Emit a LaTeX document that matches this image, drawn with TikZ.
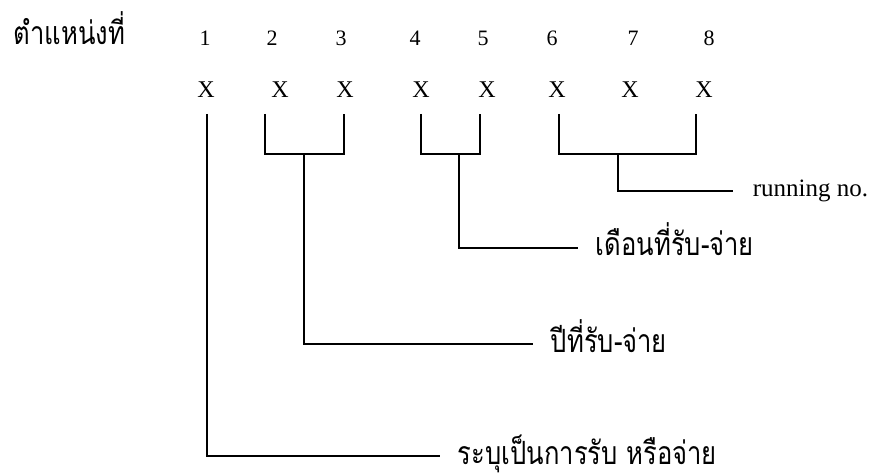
\documentclass[tikz,border=0pt]{standalone}
\usepackage{fontspec}
\setmainfont{Liberation Serif}
\newfontfamily\thaifont[Script=Thai,FakeStretch=0.8]{Loma}

\tikzset{
  digit/.style={font=\fontsize{22}{26}\selectfont},
  slot/.style={font=\fontsize{24}{28}\selectfont},
  thai/.style={font=\thaifont\fontsize{32}{38}\selectfont, anchor=west,
    inner xsep=17pt, inner ysep=0pt, text height=20pt, text depth=4pt},
  latin/.style={font=\fontsize{25}{30}\selectfont, anchor=west,
    inner xsep=19pt, inner ysep=0pt, text height=15pt, text depth=4pt},
}

\begin{document}
\begin{tikzpicture}[x=1pt,y=-1pt,line width=1.8pt]
\useasboundingbox (0,0) rectangle (884,473);
%\draw[help lines, step=50pt] (0,0) grid (884,473);
\node[thai,inner xsep=0pt](pos) at (13,37) {ตำแหน่งที่};
\node[digit](d1) at (205,38) {1};
\node[digit](d2) at (272,38) {2};
\node[digit](d3) at (341,38) {3};
\node[digit](d4) at (415,38) {4};
\node[digit](d5) at (483,38) {5};
\node[digit](d6) at (552,38) {6};
\node[digit](d7) at (633,38) {7};
\node[digit](d8) at (709,38) {8};
\node[slot](x1) at (206,90) {X};
\node[slot](x2) at (280,90) {X};
\node[slot](x3) at (345,90) {X};
\node[slot](x4) at (421,90) {X};
\node[slot](x5) at (487,90) {X};
\node[slot](x6) at (557,90) {X};
\node[slot](x7) at (630,90) {X};
\node[slot](x8) at (704,90) {X};

% bracket tops and joints
\coordinate(t1) at (207,114);
\coordinate(t2) at (265,114);
\coordinate(t3) at (344,114);
\coordinate(t4) at (421,114);
\coordinate(t5) at (480,114);
\coordinate(t6) at (559,114);
\coordinate(t8) at (696,114);
\coordinate(j23) at (304,154);
\coordinate(j45) at (459,154);
\coordinate(j68) at (618,154);

\node[latin](run) at (733,191) {running no.};
\node[thai](month) at (578,248) {เดือนที่รับ-จ่าย};
\node[thai](year) at (533,344) {ปีที่รับ-จ่าย};
\node[thai](kind) at (440,456) {ระบุเป็นการรับ หรือจ่าย};

\draw(t2) |- (j23) -| (t3);
\draw(t4) |- (j45) -| (t5);
\draw(t6) |- (j68) -| (t8);
\draw(j68) |- (run.west);
\draw(j45) |- (month.west);
\draw(j23) |- (year.west);
\draw(t1) |- (kind.west);
\end{tikzpicture}
\end{document}
